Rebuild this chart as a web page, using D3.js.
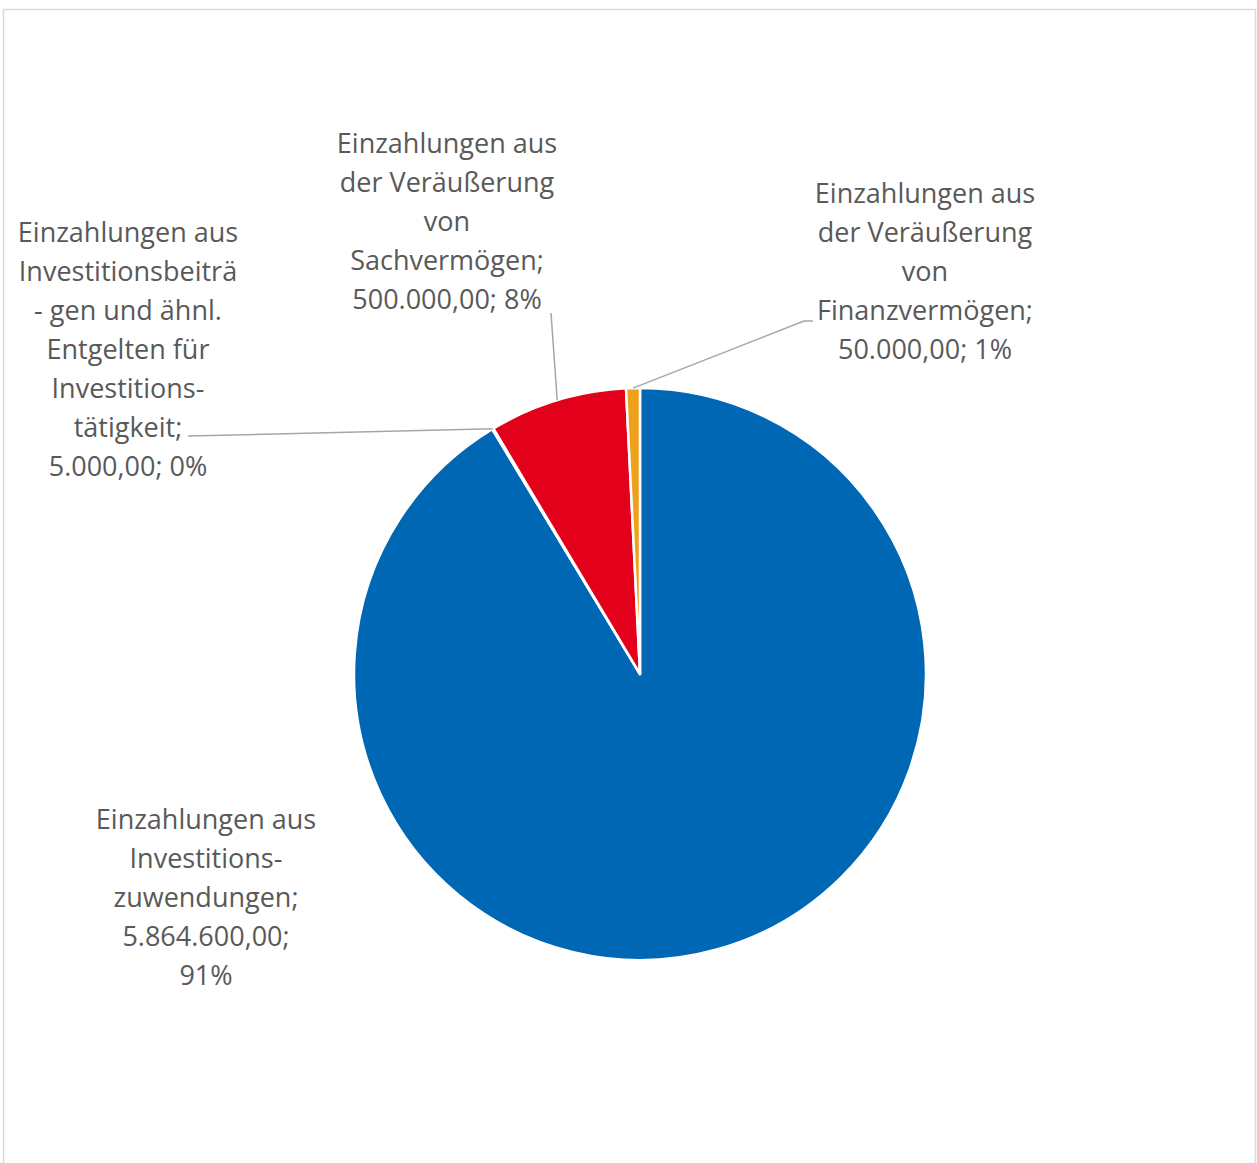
<!DOCTYPE html>
<html lang="de">
<head>
<meta charset="utf-8">
<script src="https://cdn.jsdelivr.net/npm/d3@7"></script>
<style>
  html, body { margin: 0; padding: 0; background: #fff; }
  svg { display: block; }
</style>
</head>
<body>
<svg id="chart" width="1257" height="1163"></svg>
<script>
// Einzahlungen aus Investitionstätigkeit, in the order the slices run clockwise from 12 o'clock
const categories = [
  "Einzahlungen aus Investitionszuwendungen",
  "Einzahlungen aus Investitionsbeiträgen und ähnl. Entgelten für Investitionstätigkeit",
  "Einzahlungen aus der Veräußerung von Sachvermögen",
  "Einzahlungen aus der Veräußerung von Finanzvermögen"
];
const values = [5864600, 5000, 500000, 50000];
const colors = ["#0067B4", "#A5A5A5", "#E2001A", "#EE9F1C"];

// wrapped category text as it appears in the data labels
const nameLines = [
  ["Einzahlungen aus", "Investitions-", "zuwendungen;"],
  ["Einzahlungen aus", "Investitionsbeiträ", "- gen und ähnl.", "Entgelten für", "Investitions-", "tätigkeit;"],
  ["Einzahlungen aus", "der Veräußerung", "von", "Sachvermögen;"],
  ["Einzahlungen aus", "der Veräußerung", "von", "Finanzvermögen;"]
];
// whether value and percentage sit on separate lines
const splitValue = [true, false, false, false];

const W = 1257, H = 1163;
const cx = 640, cy = 674, R = 286;
const lineStep = 39;

// label anchors (centre x, first baseline) and leader-line start points
const labelPos = [
  { x: 206, y: 829, leader: null },
  { x: 128, y: 242, leader: [[188, 436]] },
  { x: 447, y: 153, leader: [[551, 313]] },
  { x: 925, y: 203, leader: [[813, 321], [804, 321]] }
];

const svg = d3.select("#chart");

// chart area frame
svg.append("rect")
  .attr("x", 3.5).attr("y", 9.5)
  .attr("width", 1252).attr("height", H + 20)
  .attr("fill", "#fff")
  .attr("stroke", "#D9D9D9")
  .attr("stroke-width", 1.5);

const total = d3.sum(values);
const fmtNum = new Intl.NumberFormat("de-DE", { minimumFractionDigits: 2, maximumFractionDigits: 2 });
const fmtPct = v => Math.round(v / total * 100) + "%";

const pie = d3.pie().sort(null).value(d => d)(values);
const arc = d3.arc().innerRadius(0).outerRadius(R);

const g = svg.append("g").attr("transform", `translate(${cx},${cy})`);
g.selectAll("path.slice")
  .data(pie)
  .join("path")
  .attr("class", "slice")
  .attr("d", arc)
  .attr("fill", (d, i) => colors[i])
  .attr("stroke", "#fff")
  .attr("stroke-width", 2.5)
  .attr("stroke-linejoin", "round");

// leader lines from label to the outer edge at each slice's mid angle
const line = d3.line();
pie.forEach((d, i) => {
  const lp = labelPos[i];
  if (!lp.leader) return;
  const mid = (d.startAngle + d.endAngle) / 2;
  const end = [cx + R * Math.sin(mid), cy - R * Math.cos(mid)];
  svg.append("path")
    .attr("d", line([...lp.leader, end]))
    .attr("fill", "none")
    .attr("stroke", "#A6A6A6")
    .attr("stroke-width", 1.5);
});

// data labels: category; value; percentage
pie.forEach((d, i) => {
  const lp = labelPos[i];
  const lines = nameLines[i].slice();
  const v = fmtNum.format(values[i]);
  const p = fmtPct(values[i]);
  if (splitValue[i]) { lines.push(v + ";", p); } else { lines.push(v + "; " + p); }
  const t = svg.append("text")
    .attr("text-anchor", "middle")
    .attr("font-family", "'Open Sans', Lato, sans-serif")
    .attr("font-size", 27)
    .attr("fill", "#595959");
  lines.forEach((s, k) => {
    t.append("tspan").attr("x", lp.x).attr("y", lp.y + k * lineStep).text(s);
  });
});
</script>
</body>
</html>
